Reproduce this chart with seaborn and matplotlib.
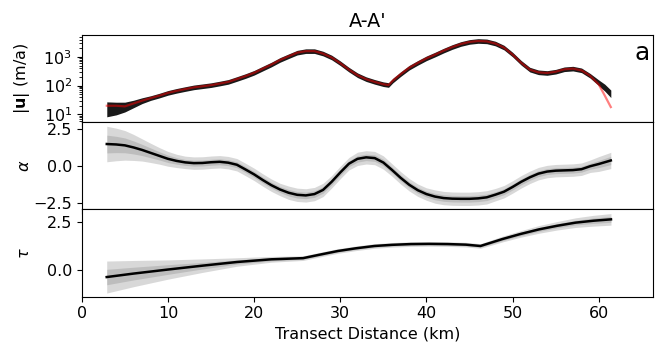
import numpy as np
import seaborn as sns
import matplotlib.pyplot as plt

# --- speed |u| (m/a), top panel ---
speed_km = [2.9, 4, 5, 6, 7, 8, 9, 10, 11, 12, 13, 14, 15, 16, 17, 18, 19, 20,
            21, 22, 23, 24, 25, 26, 27, 28, 29, 30, 31, 32, 33, 34, 35, 35.6,
            36.1, 37, 38, 39, 40, 41, 42, 43, 44, 45, 46, 47, 48, 49, 50, 51,
            52, 53, 54, 55, 56, 57, 58, 59, 60, 60.7, 61.4]
# observed speed (red)
speed_obs = [20, 20, 19, 24, 30, 37, 45, 56, 66, 76, 87, 95, 104, 118, 135,
             170, 215, 280, 390, 540, 780, 1050, 1400, 1580, 1580, 1300, 950,
             600, 360, 230, 168, 135, 112, 105, 150, 250, 420, 620, 890, 1200,
             1650, 2200, 2800, 3300, 3560, 3450, 2900, 2100, 1200, 620, 360,
             290, 275, 305, 370, 390, 340, 220, 110, 45, 18]
# ensemble centre (black)
speed_ens = [15, 16, 18, 23, 30, 37, 45, 56, 66, 76, 87, 95, 104, 118, 135,
             170, 215, 280, 390, 540, 780, 1050, 1400, 1580, 1580, 1300, 950,
             600, 360, 230, 168, 135, 112, 105, 150, 250, 420, 620, 890, 1200,
             1650, 2200, 2800, 3300, 3560, 3450, 2900, 2100, 1200, 620, 360,
             290, 275, 305, 370, 390, 340, 220, 125, 85, 52]
# ensemble half spread (decades)
speed_spread = [0.26, 0.22, 0.17, 0.13, 0.10, 0.08, 0.08, 0.08, 0.08, 0.08,
                0.08, 0.08, 0.08, 0.08, 0.08, 0.08, 0.08, 0.08, 0.08, 0.08,
                0.08, 0.08, 0.08, 0.08, 0.08, 0.08, 0.08, 0.08, 0.08, 0.08,
                0.08, 0.08, 0.08, 0.08, 0.08, 0.08, 0.08, 0.08, 0.08, 0.08,
                0.08, 0.08, 0.08, 0.08, 0.08, 0.08, 0.08, 0.08, 0.08, 0.08,
                0.08, 0.08, 0.08, 0.08, 0.08, 0.08, 0.08, 0.08, 0.10, 0.12,
                0.13]

# --- alpha, middle panel ---
alpha_km = [2.9, 4, 5, 6, 7, 8, 9, 10, 11, 12, 13, 14, 15, 16, 17, 18, 19, 20,
            21, 22, 23, 24, 25, 26, 27, 28, 29, 30, 31, 32, 33, 34, 35, 36, 37,
            38, 39, 40, 41, 42, 43, 44, 45, 46, 47, 48, 49, 50, 51, 52, 53, 54,
            55, 56, 57, 58, 59, 60, 61.4]
alpha_med = [1.50, 1.47, 1.41, 1.27, 1.10, 0.90, 0.70, 0.50, 0.36, 0.26, 0.21,
             0.22, 0.27, 0.30, 0.24, 0.10, -0.22, -0.55, -0.93, -1.28, -1.57,
             -1.79, -1.93, -1.97, -1.88, -1.60, -1.05, -0.42, 0.17, 0.50, 0.60,
             0.55, 0.25, -0.25, -0.78, -1.25, -1.62, -1.88, -2.05, -2.15, -2.19,
             -2.20, -2.20, -2.17, -2.10, -1.92, -1.72, -1.40, -1.05, -0.75,
             -0.50, -0.36, -0.30, -0.28, -0.26, -0.20, 0.00, 0.15, 0.39]
alpha_hw_outer = [1.20, 1.10, 1.00, 0.88, 0.75, 0.65, 0.56, 0.50, 0.45,
                  0.42, 0.42, 0.42, 0.42, 0.42, 0.42, 0.42,
                  0.42, 0.42, 0.42, 0.42, 0.42,
                  0.45, 0.45, 0.45, 0.45, 0.45,
                  0.42, 0.42, 0.42,
                  0.45, 0.45, 0.45, 0.45,
                  0.42, 0.42, 0.42, 0.42, 0.42,
                  0.45, 0.45, 0.45, 0.45, 0.45, 0.45, 0.45,
                  0.42, 0.42, 0.42, 0.42, 0.42, 0.42,
                  0.42, 0.42, 0.42, 0.42, 0.42, 0.42,
                  0.50, 0.55]
alpha_hw_inner = [0.60, 0.55, 0.50, 0.44, 0.38, 0.33, 0.28, 0.25, 0.22,
                  0.20, 0.20, 0.20, 0.20, 0.20, 0.20, 0.20,
                  0.20, 0.20, 0.20, 0.20, 0.20,
                  0.22, 0.22, 0.22, 0.22, 0.22,
                  0.20, 0.20, 0.20,
                  0.22, 0.22, 0.22, 0.22,
                  0.20, 0.20, 0.20, 0.20, 0.20,
                  0.22, 0.22, 0.22, 0.22, 0.22, 0.22, 0.22,
                  0.20, 0.20, 0.20, 0.20, 0.20, 0.20,
                  0.20, 0.20, 0.20, 0.20, 0.20, 0.20,
                  0.24, 0.28]

# --- tau, bottom panel ---
tau_km = [2.89, 6.0, 10.0, 14.0, 18.0, 22.0, 25.68, 27.5, 29.71, 31.8, 33.96,
          36.0, 38.2, 40.3, 42.45, 44.57, 46.27, 48.82, 50.9, 53.06, 55.2,
          57.31, 59.4, 61.42]
tau_med = [-0.37, -0.19, 0.02, 0.22, 0.41, 0.55, 0.61, 0.78, 0.98, 1.12, 1.24,
           1.30, 1.34, 1.35, 1.34, 1.31, 1.24, 1.60, 1.86, 2.10, 2.29, 2.45,
           2.55, 2.62]
tau_hw_outer = [0.83, 0.68, 0.50, 0.35, 0.22, 0.15, 0.12, 0.12, 0.12, 0.12,
                0.12, 0.12, 0.12, 0.12, 0.12, 0.12, 0.12, 0.15, 0.17, 0.20,
                0.22, 0.25, 0.28, 0.30]
tau_hw_inner = [0.40, 0.33, 0.25, 0.17, 0.11, 0.08, 0.06, 0.06, 0.06, 0.06,
                0.06, 0.06, 0.06, 0.06, 0.06, 0.06, 0.06, 0.08, 0.09, 0.10,
                0.11, 0.12, 0.14, 0.15]

plt.rcParams['font.size'] = 11.5

fig, axes = plt.subplots(3, 1, figsize=(6.65, 3.56), dpi=100, sharex=True)
fig.subplots_adjust(left=0.123, right=0.982, top=0.902, bottom=0.167, hspace=0)
ax1, ax2, ax3 = axes

# top: speed ensemble + observed
ens = np.array(speed_ens, dtype=float)
spr = 10 ** np.array(speed_spread)
ax1.set_yscale('log')
ax1.fill_between(speed_km, ens / spr, ens * spr, color='k', alpha=0.9, lw=0)
sns.lineplot(x=speed_km, y=speed_obs, ax=ax1, color='red', alpha=0.5, lw=1.6)
ax1.set_ylim(5.4, 5800)
ax1.set_ylabel(r'|$\mathbf{u}$| (m/a)')
ax1.set_title("A-A'")
ax1.text(0.995, 0.93, 'a', transform=ax1.transAxes, fontsize=18,
         ha='right', va='top')


def draw_bands(ax, km, med, hw_out, hw_in):
    med = np.array(med)
    for hw in (hw_out, hw_in):
        hw = np.array(hw)
        ax.fill_between(km, med - hw, med + hw, color='gray', alpha=0.3, lw=0)
    sns.lineplot(x=km, y=med, ax=ax, color='k', lw=1.8)


draw_bands(ax2, alpha_km, alpha_med, alpha_hw_outer, alpha_hw_inner)
ax2.set_ylim(-2.91, 2.98)
ax2.set_yticks([-2.5, 0.0, 2.5])
ax2.set_ylabel(r'$\alpha$')

draw_bands(ax3, tau_km, tau_med, tau_hw_outer, tau_hw_inner)
ax3.set_ylim(-1.38, 3.14)
ax3.set_yticks([0.0, 2.5])
ax3.set_ylabel(r'$\tau$')

ax3.set_xlim(0, 66.3)
ax3.set_xticks([0, 10, 20, 30, 40, 50, 60])
ax3.set_xlabel('Transect Distance (km)')

for ax in axes:
    ax.yaxis.set_label_coords(-0.088, 0.5)

fig.savefig('out.png', dpi=100)
